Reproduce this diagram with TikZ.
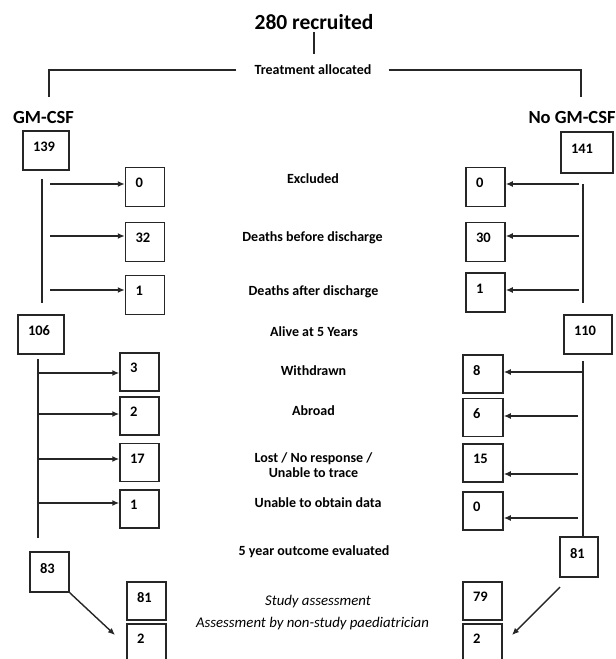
\documentclass[tikz,border=0pt]{standalone}
\usepackage{fontspec}
\setmainfont{Carlito}
\usetikzlibrary{arrows.meta}

\begin{document}
\begin{tikzpicture}[
  x=1pt, y=-1pt,
  stem/.style={line width=1.4pt, black!85},
  flow/.style={line width=1.4pt, black!85, -{Latex[length=7pt,width=6pt]}},
  cnt/.style={draw=black!85, line width=1.5pt, inner xsep=10pt, inner ysep=0pt,
              minimum height=39pt, text width=19pt, align=left, text depth=8pt,
              font=\fontsize{14.5}{16}\selectfont\bfseries},
  big/.style={font=\fontsize{21.5}{23}\selectfont\bfseries, inner sep=0pt, black},
  arm/.style={font=\fontsize{18.5}{20}\selectfont\bfseries, inner sep=0pt, black},
  lab/.style={font=\fontsize{14}{15.5}\selectfont\bfseries, align=center,
              inner sep=0pt, black},
  ital/.style={font=\fontsize{14.8}{16}\selectfont\itshape, inner sep=0pt, black}]

\useasboundingbox (0,0) rectangle (616,659);
\clip (0,0) rectangle (616,659);

% ========================== top: recruitment ===========================
\node[big] (rec) at (314,22) {280 recruited};
\node[lab] (alloc) at (313,70) {Treatment allocated};
\coordinate (recfoot) at (314,32);
\coordinate (allochead) at (314,54);
\draw[stem] (recfoot) -- (allochead);
\coordinate (gfork) at (49,97);
\coordinate (nfork) at (581,97);
\draw[stem] ([xshift=-18pt]alloc.west) -| (gfork);
\draw[stem] ([xshift=17pt]alloc.east) -| (nfork);
\node[arm] (armg) at (43.5,117) {GM-CSF};
\node[arm] (armn) at (572,117) {No GM-CSF};

% ======================= upper: before discharge =======================
\node[cnt, text width=26pt] (g139) at (46,150.5) {139};
\node[cnt, text width=32pt, minimum height=41pt] (n141) at (587,152.5) {141};
\coordinate (gup1) at (42,179);
\coordinate (gup2) at (42,303);
\coordinate (nup1) at (583,184);
\coordinate (nup2) at (583,303);
\draw[stem] (gup1) -- (gup2);
\draw[stem] (nup1) -- (nup2);
\foreach \nm/\yy/\ay/\vv in {gex/187/184/0, gdb/242/236/32, gda/295/290/1}{
  \node[cnt] (\nm) at (145,\yy) {\vv};
  \coordinate (\nm-in) at (50,\ay);
  \draw[flow] (\nm-in) -- (\nm-in -| \nm.west);}
\foreach \nm/\yy/\ay/\vv in {nex/187/184/0, ndb/242/236/30, nda/292.5/290/1}{
  \node[cnt] (\nm) at (485.5,\yy) {\vv};
  \coordinate (\nm-in) at (579,\ay);
  \draw[flow] (\nm-in) -- (\nm-in -| \nm.east);}
\node[lab] (tex) at (313,179) {Excluded};
\node[lab] (tdb) at (312.5,238) {Deaths before discharge};
\node[lab] (tda) at (313.5,292) {Deaths after discharge};

% ======================== middle: alive at 5 years =====================
\node[cnt, text width=26pt] (g106) at (41,334.5) {106};
\node[cnt, text width=28pt] (n110) at (588,334.5) {110};
\node[lab] (talive) at (314,332) {Alive at 5 Years};

\coordinate (glow1) at (38,359);
\coordinate (glow2) at (38,538);
\draw[stem] (glow1) -- (glow2);
\foreach \nm/\yy/\ay/\vv in {gwd/372/373/3, gab/416/414/2, glo/462.5/459/17,
                            gun/509/503/1}{
  \node[cnt, minimum height=38pt] (\nm) at (139.5,\yy) {\vv};
  \coordinate (\nm-in) at (38,\ay);
  \draw[flow] (\nm-in) -- (\nm-in -| \nm.west);}
\foreach \nm/\yy/\ay/\ax/\vv in {nwd/374/372/583/8, nab/417.5/416/578/6,
                                nlo/463/474/578/15, nun/511/518/578/0}{
  \node[cnt, text width=20pt, minimum height=38pt] (\nm) at (483,\yy) {\vv};
  \coordinate (\nm-in) at (\ax,\ay);
  \draw[flow] (\nm-in) -- (\nm-in -| \nm.east);}
\node[lab] (twd) at (313.5,371) {Withdrawn};
\node[lab] (tab) at (313.5,411) {Abroad};
\node[lab] (tlo) at (313.5,465) {Lost / No response /\\Unable to trace};
\node[lab] (tun) at (318,503) {Unable to obtain data};

% ======================= bottom: outcome evaluated =====================
\node[lab] (teval) at (314,552) {5 year outcome evaluated};
\node[cnt, minimum height=40pt] (g83) at (49.5,572) {83};
\node[cnt, text width=18pt, minimum height=40pt] (n81) at (579,557) {81};
\coordinate (nlow1) at (583,361);
\draw[stem] (nlow1) -- (nlow1 |- n81.north);
\foreach \nm/\xx/\yy/\vv in {gst/146.5/601/81, gns/146.5/643/2,
                            nst/482.5/601/79, nns/482.5/643/2}{
  \node[cnt, minimum height=38pt] (\nm) at (\xx,\yy) {\vv};}
\node[ital] (tst) at (318,602) {Study assessment};
\node[ital] (tns) at (312.5,624) {Assessment by non-study paediatrician};
\coordinate (g83tip) at (115,635);
\coordinate (n81out) at (560,587);
\coordinate (n81tip) at (512,635);
\draw[flow] (g83.south east) -- (g83tip);
\draw[flow] (n81out) -- (n81tip);

\end{tikzpicture}
\end{document}
